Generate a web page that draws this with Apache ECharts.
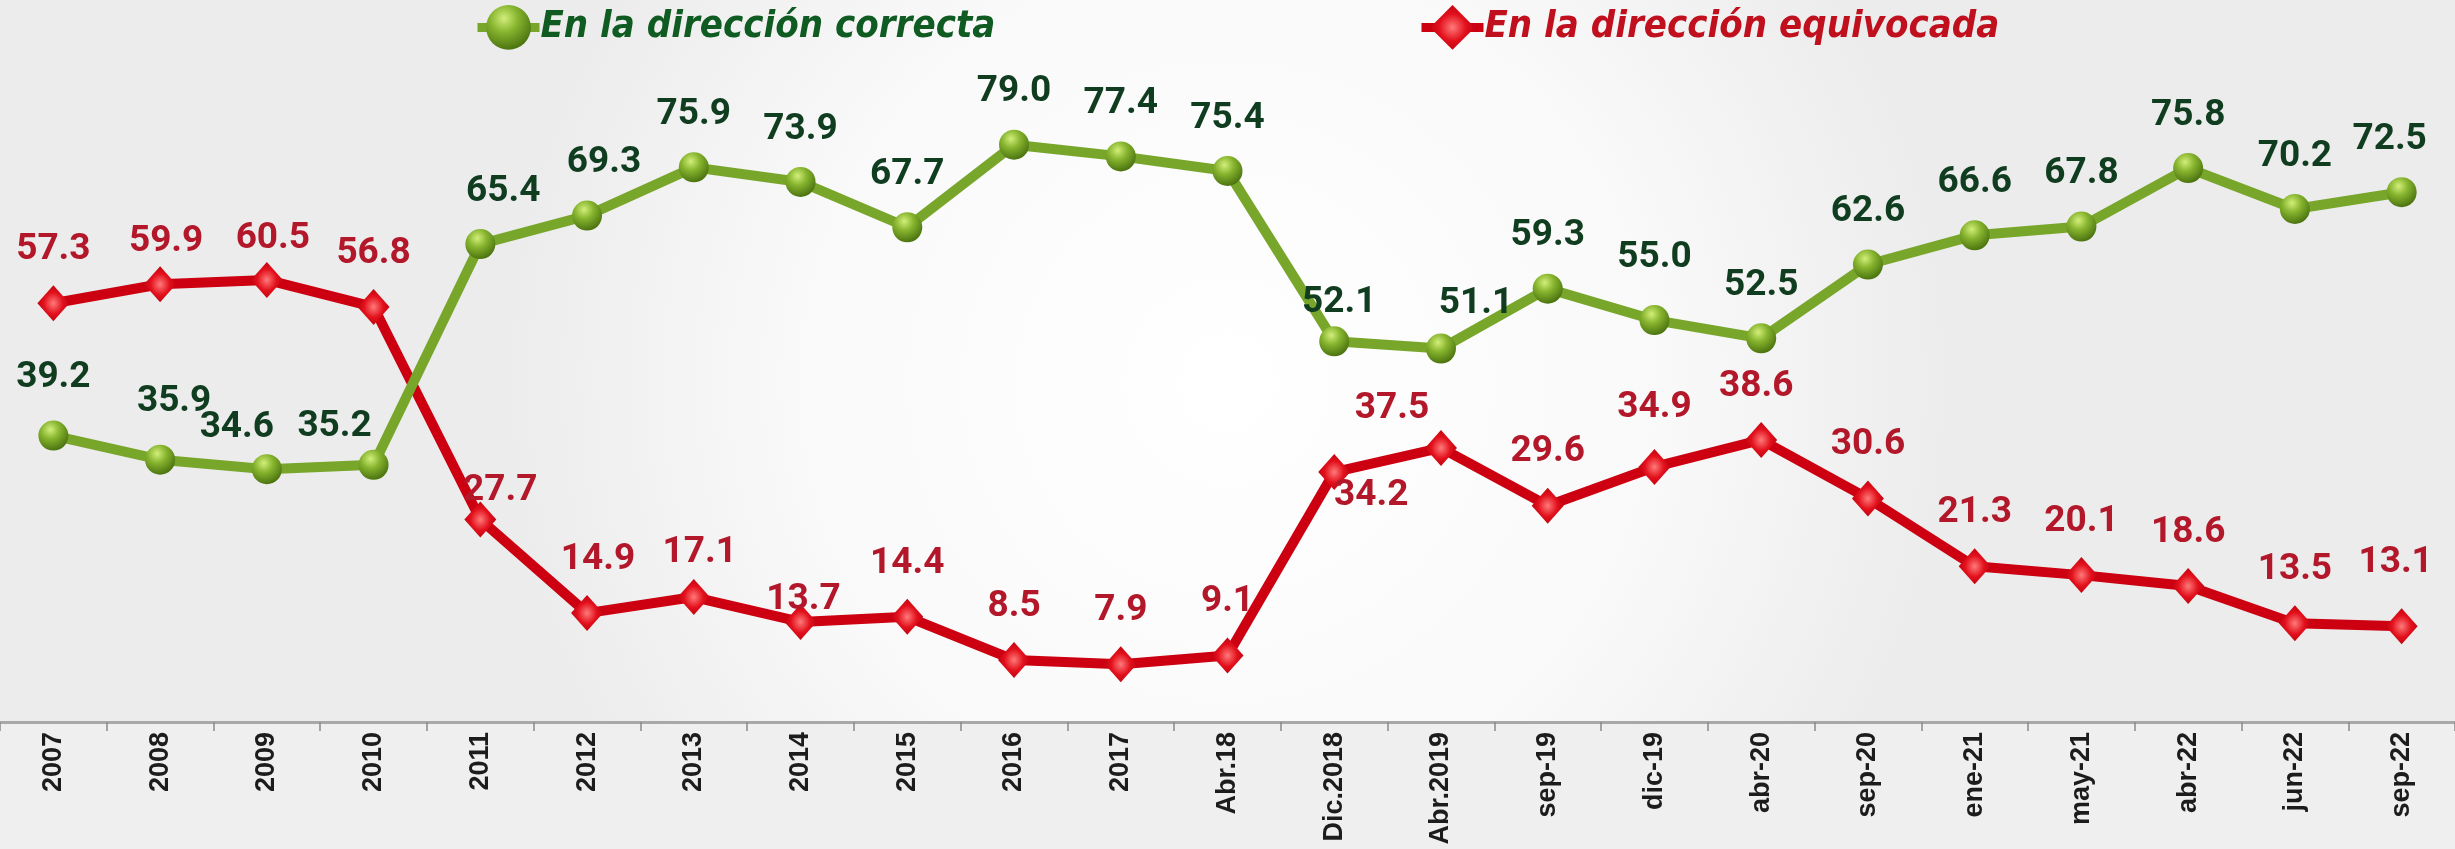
<!DOCTYPE html>
<html>
<head>
<meta charset="utf-8">
<script src="https://cdn.jsdelivr.net/npm/echarts@6/dist/echarts.min.js"></script>
<style>
  html, body { margin: 0; padding: 0; }
  #chart { width: 2455px; height: 849px; }
</style>
</head>
<body>
<div id="chart"></div>
<script>
// categorías del eje x
const periodos = ['2007', '2008', '2009', '2010', '2011', '2012', '2013', '2014', '2015', '2016', '2017', 'Abr.18',
  'Dic.2018', 'Abr.2019', 'sep-19', 'dic-19', 'abr-20', 'sep-20', 'ene-21', 'may-21', 'abr-22', 'jun-22', 'sep-22']

// valores de cada serie
const correcta = [39.2, 35.9, 34.6, 35.2, 65.4, 69.3, 75.9, 73.9, 67.7, 79.0, 77.4, 75.4,
  52.1, 51.1, 59.3, 55.0, 52.5, 62.6, 66.6, 67.8, 75.8, 70.2, 72.5]
const equivocada = [57.3, 59.9, 60.5, 56.8, 27.7, 14.9, 17.1, 13.7, 14.4, 8.5, 7.9, 9.1,
  34.2, 37.5, 29.6, 34.9, 38.6, 30.6, 21.3, 20.1, 18.6, 13.5, 13.1]

// ajustes manuales de etiquetas (px), como en el original
const ajusteVerde = {1: [14, -5], 2: [-30, 11], 3: [-39, 14], 4: [23, 0], 5: [17, 0], 0: [0, -5],
  12: [5, 14], 13: [35, 8], 15: [0, -10], 22: [-12, 0]}
const ajusteRojo = {1: [6, 11], 2: [6, 12], 4: [20, 25], 5: [11, 0], 6: [6, 9], 7: [3, 31],
  12: [37, 77], 13: [-49, 14], 15: [0, -6], 16: [-5, 0], 22: [-6, -10]}

const fuente = "Roboto, 'Liberation Sans', sans-serif"
const fuenteLeyenda = "'DejaVu Sans Condensed', 'Liberation Sans', sans-serif"

const conAjuste = (vals, ajustes) => vals.map((v, i) => ajustes[i]
  ? { value: v, label: { offset: ajustes[i] } }
  : v)

const myChart = echarts.init(document.getElementById('chart'))
myChart.setOption({
  backgroundColor: new echarts.graphic.RadialGradient(0.5, 0.45, 0.85, [
    { offset: 0, color: '#ffffff' },
    { offset: 0.6, color: '#f9f9f9' },
    { offset: 1, color: '#ececec' }
  ]),
  animation: false,
  graphic: [{
    type: 'rect',
    left: 0,
    top: 722,
    shape: { width: 2455, height: 127 },
    style: { fill: '#efefef' },
    z: -1
  }],
  legend: [
    {
      data: ['En la dirección correcta'],
      left: 468,
      top: 0,
      itemWidth: 62,
      itemHeight: 56,
      itemGap: 4,
      lineStyle: { width: 9 },
      textStyle: { fontFamily: fuenteLeyenda, fontSize: 38, fontWeight: 'bold', fontStyle: 'italic', color: '#0f5b22', padding: [0, 0, 0, -4] }
    },
    {
      data: ['En la dirección equivocada'],
      left: 1412,
      top: 0,
      itemWidth: 62,
      itemHeight: 56,
      lineStyle: { width: 9 },
      textStyle: { fontFamily: fuenteLeyenda, fontSize: 38, fontWeight: 'bold', fontStyle: 'italic', color: '#c0101e', padding: [0, 0, 0, -4] }
    }
  ],
  grid: {
    left: 0,
    right: 0,
    top: 0,
    bottom: 127
  },
  xAxis: {
    type: 'category',
    data: periodos,
    boundaryGap: true,
    axisLine: { lineStyle: { color: '#a8a8a8', width: 3 } },
    axisTick: { show: true, length: 9, lineStyle: { color: '#8a8a8a', width: 1.5 } },
    axisLabel: {
      rotate: 90,
      margin: 10,
      fontFamily: "'Liberation Sans', Arial, sans-serif",
      fontSize: 27,
      fontWeight: 'bold',
      color: '#1c1c1c'
    }
  },
  yAxis: {
    type: 'value',
    min: 0,
    max: 98.8,
    show: false,
    splitLine: { show: false }
  },
  series: [
    {
      name: 'En la dirección correcta',
      type: 'line',
      data: conAjuste(correcta, ajusteVerde),
      symbol: 'circle',
      symbolSize: 30,
      lineStyle: { color: '#77a62a', width: 10 },
      itemStyle: {
        color: new echarts.graphic.RadialGradient(0.4, 0.3, 0.7, [
          { offset: 0, color: '#d2ee7a' },
          { offset: 0.45, color: '#86b42e' },
          { offset: 1, color: '#4c7410' }
        ]),
        borderWidth: 0
      },
      label: {
        show: true,
        position: 'top',
        distance: 19,
        formatter: p => Number(p.value).toFixed(1),
        fontFamily: fuente,
        fontSize: 37,
        fontWeight: 'bold',
        color: '#103c1f'
      },
      z: 3
    },
    {
      name: 'En la dirección equivocada',
      type: 'line',
      data: conAjuste(equivocada, ajusteRojo),
      symbol: 'diamond',
      symbolSize: [32, 36],
      lineStyle: { color: '#cc0010', width: 10 },
      itemStyle: {
        color: new echarts.graphic.RadialGradient(0.5, 0.5, 0.6, [
          { offset: 0, color: '#ff7a7a' },
          { offset: 0.5, color: '#e2101c' },
          { offset: 1, color: '#b0000a' }
        ]),
        borderWidth: 0
      },
      label: {
        show: true,
        position: 'top',
        distance: 17,
        formatter: p => Number(p.value).toFixed(1),
        fontFamily: fuente,
        fontSize: 37,
        fontWeight: 'bold',
        color: '#b3182a'
      },
      z: 2
    }
  ]
})
</script>
</body>
</html>
